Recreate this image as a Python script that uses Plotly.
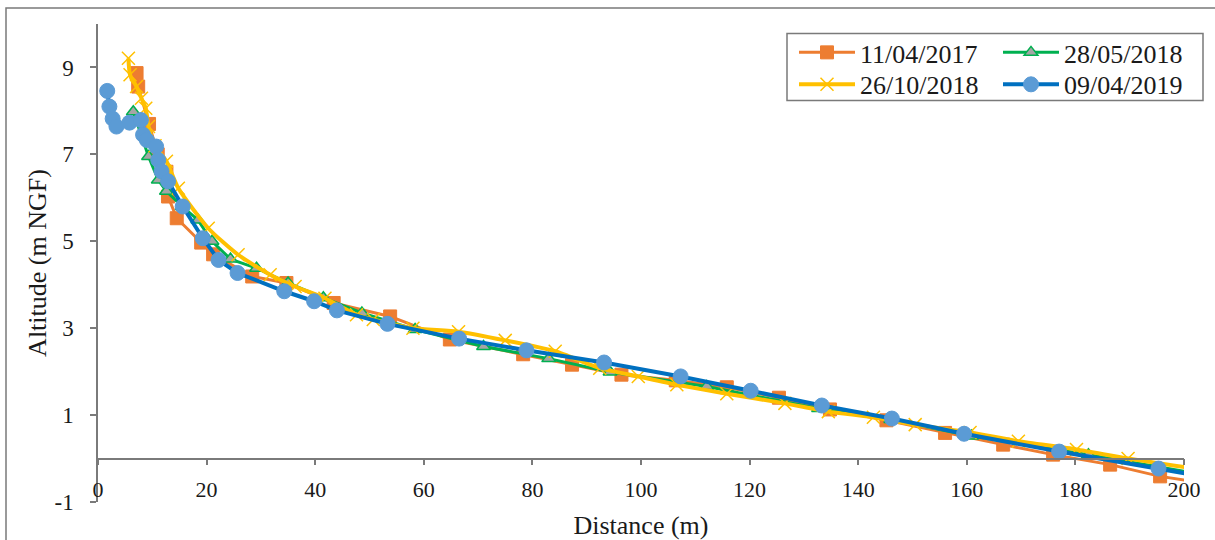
import plotly.graph_objects as go

# ---- data ----
x_2017 = [7.1, 7.4, 9.4, 11.0, 12.6, 12.9, 14.5, 19.0, 21.2, 28.4, 34.7, 43.4, 53.8, 64.8, 78.3,
          87.3, 96.4, 106.4, 115.8, 125.4, 134.8, 145.2, 156.0, 166.7, 175.9, 186.4, 195.6, 205.5]
y_2017 = [8.87, 8.56, 7.70, 7.00, 6.60, 6.03, 5.53, 4.97, 4.70, 4.19, 4.04, 3.58, 3.27, 2.74, 2.40,
          2.16, 1.93, 1.80, 1.64, 1.40, 1.13, 0.88, 0.59, 0.32, 0.09, -0.14, -0.41, -0.60]

x_2018a = [6.5, 9.3, 11.1, 12.6, 15.5, 18.4, 21.0, 24.4, 29.2, 35.0, 41.5, 48.6, 58.4, 71.0, 83.0,
           94.3, 112.1, 132.7, 146.0, 160.9, 182.4, 204.0]
y_2018a = [7.98, 6.95, 6.41, 6.15, 5.80, 5.49, 5.00, 4.59, 4.38, 4.04, 3.70, 3.35, 2.97, 2.58, 2.30,
           1.99, 1.66, 1.15, 0.90, 0.52, 0.09, -0.38]

x_2018b = [5.6, 5.9, 7.1, 8.0, 8.8, 9.3, 10.5, 12.6, 14.8, 20.3, 25.8, 31.7, 36.3, 41.8, 47.6, 50.7,
           58.0, 66.4, 75.0, 84.2, 92.4, 99.5, 106.6, 115.8, 126.5, 134.5, 142.8, 150.5, 160.6,
           169.5, 180.2, 189.7, 204.0]
y_2018b = [9.21, 8.83, 8.56, 8.29, 8.06, 7.64, 7.20, 6.84, 6.22, 5.30, 4.69, 4.23, 3.96, 3.69, 3.31, 3.20,
           3.00, 2.92, 2.72, 2.47, 2.08, 1.89, 1.70, 1.49, 1.27, 1.08, 0.95, 0.78, 0.60,
           0.40, 0.21, 0.00, -0.27]

x_2019 = [1.7, 2.1, 2.7, 3.4, 5.8, 7.9, 8.3, 9.0, 10.7, 11.1, 11.7, 12.9, 15.6, 19.3, 22.2, 25.7,
          34.3, 39.8, 44.0, 53.3, 66.5, 78.9, 93.2, 107.3, 120.2, 133.3, 146.2, 159.5, 177.0, 195.3, 210.0]
y_2019 = [8.46, 8.10, 7.82, 7.64, 7.73, 7.79, 7.45, 7.33, 7.18, 6.87, 6.61, 6.38, 5.80, 5.07, 4.57, 4.27,
          3.85, 3.62, 3.41, 3.10, 2.76, 2.49, 2.21, 1.89, 1.56, 1.22, 0.92, 0.57, 0.16, -0.23, -0.55]

names = ["11/04/2017", "28/05/2018", "26/10/2018", "09/04/2019"]
x_ticks = list(range(0, 201, 20))
y_ticks = [-1, 1, 3, 5, 7, 9]

FONT = "Liberation Serif"
AXIS_COL = "#7a7a7a"
TXT = "#1a1a1a"

# plot area in pixels
L, R, T, B = 98, 1184, 23.5, 502
W, H = R - L, B - T


def px_x(p):
    return (p - L) / W


def px_y(p):
    return (B - p) / H


fig = go.Figure()
fig.add_trace(go.Scatter(
    x=x_2017, y=y_2017, name=names[0], mode="lines+markers", legend="legend",
    line=dict(color="#ED7D31", width=3),
    marker=dict(symbol="square", size=13, color="#ED7D31", line=dict(color="#ED7D31", width=1))))
fig.add_trace(go.Scatter(
    x=x_2018a, y=y_2018a, name=names[1], mode="lines+markers", legend="legend",
    line=dict(color="#00B050", width=3),
    marker=dict(symbol="triangle-up", size=12, color="#A5A5A5", line=dict(color="#00B050", width=1.5))))
fig.add_trace(go.Scatter(
    x=x_2018b, y=y_2018b, name=names[2], mode="lines+markers", legend="legend2",
    line=dict(color="#FFC000", width=4, shape="spline", smoothing=0.6),
    marker=dict(symbol="x-thin", size=13, color="#FFC000", line=dict(color="#FFC000", width=1.5))))
fig.add_trace(go.Scatter(
    x=x_2019, y=y_2019, name=names[3], mode="lines+markers", legend="legend2",
    line=dict(color="#0070C0", width=4),
    marker=dict(symbol="circle", size=15, color="#5B9BD5", line=dict(color="#5B9BD5", width=1))))

leg_common = dict(
    orientation="h", x=px_x(794), xanchor="left", yanchor="middle",
    borderwidth=0, bgcolor="rgba(0,0,0,0)",
    font=dict(family=FONT, size=26, color=TXT),
    entrywidth=133, entrywidthmode="pixels", itemwidth=56, traceorder="normal")

fig.update_layout(
    width=1215, height=540,
    margin=dict(l=L, r=1215 - R, t=T, b=540 - B, autoexpand=False),
    paper_bgcolor="white", plot_bgcolor="white",
    font=dict(family=FONT, size=22, color=TXT),
    showlegend=True,
    legend=dict(leg_common, y=px_y(52)),
    legend2=dict(leg_common, y=px_y(84)),
    xaxis=dict(
        range=[0, 200], tickvals=x_ticks, ticktext=[str(v) for v in x_ticks],
        anchor="free", position=1 / 11,
        showline=True, linecolor=AXIS_COL, linewidth=1.5,
        ticks="outside", ticklen=6, tickcolor=AXIS_COL, tickwidth=1.5,
        ticklabelstandoff=5,
        showgrid=False, zeroline=False,
        tickfont=dict(family=FONT, size=22, color=TXT),
        title=dict(text="Distance (m)", standoff=15, font=dict(family=FONT, size=26, color=TXT)),
        automargin=False),
    yaxis=dict(
        range=[-1, 10], tickvals=y_ticks, ticktext=["-1", "1", "3", "5", "7", "9"],
        showline=True, linecolor=AXIS_COL, linewidth=1.5,
        ticks="outside", ticklen=6, tickcolor=AXIS_COL, tickwidth=1.5,
        ticklabelstandoff=12,
        showgrid=False, zeroline=False,
        tickfont=dict(family=FONT, size=23, color=TXT),
        title=dict(text="Altitude (m NGF)", standoff=0, font=dict(family=FONT, size=26, color=TXT)),
        automargin=False),
)

# outer chart frame (left and top edges visible in the reference)
fig.add_shape(type="rect", xref="paper", yref="paper",
              x0=px_x(6), x1=1.2, y0=-0.3, y1=px_y(7.5),
              line=dict(color="#7a7a7a", width=1.5), fillcolor="rgba(0,0,0,0)", layer="below")
# legend frame
fig.add_shape(type="rect", xref="paper", yref="paper",
              x0=px_x(787), x1=px_x(1203), y0=px_y(100), y1=px_y(33),
              line=dict(color="#7a7a7a", width=1.5), fillcolor="white", layer="above")

fig.write_html("out.html", config={"displayModeBar": False},
               post_script="document.body.style.margin='0';document.body.style.overflow='hidden';")
